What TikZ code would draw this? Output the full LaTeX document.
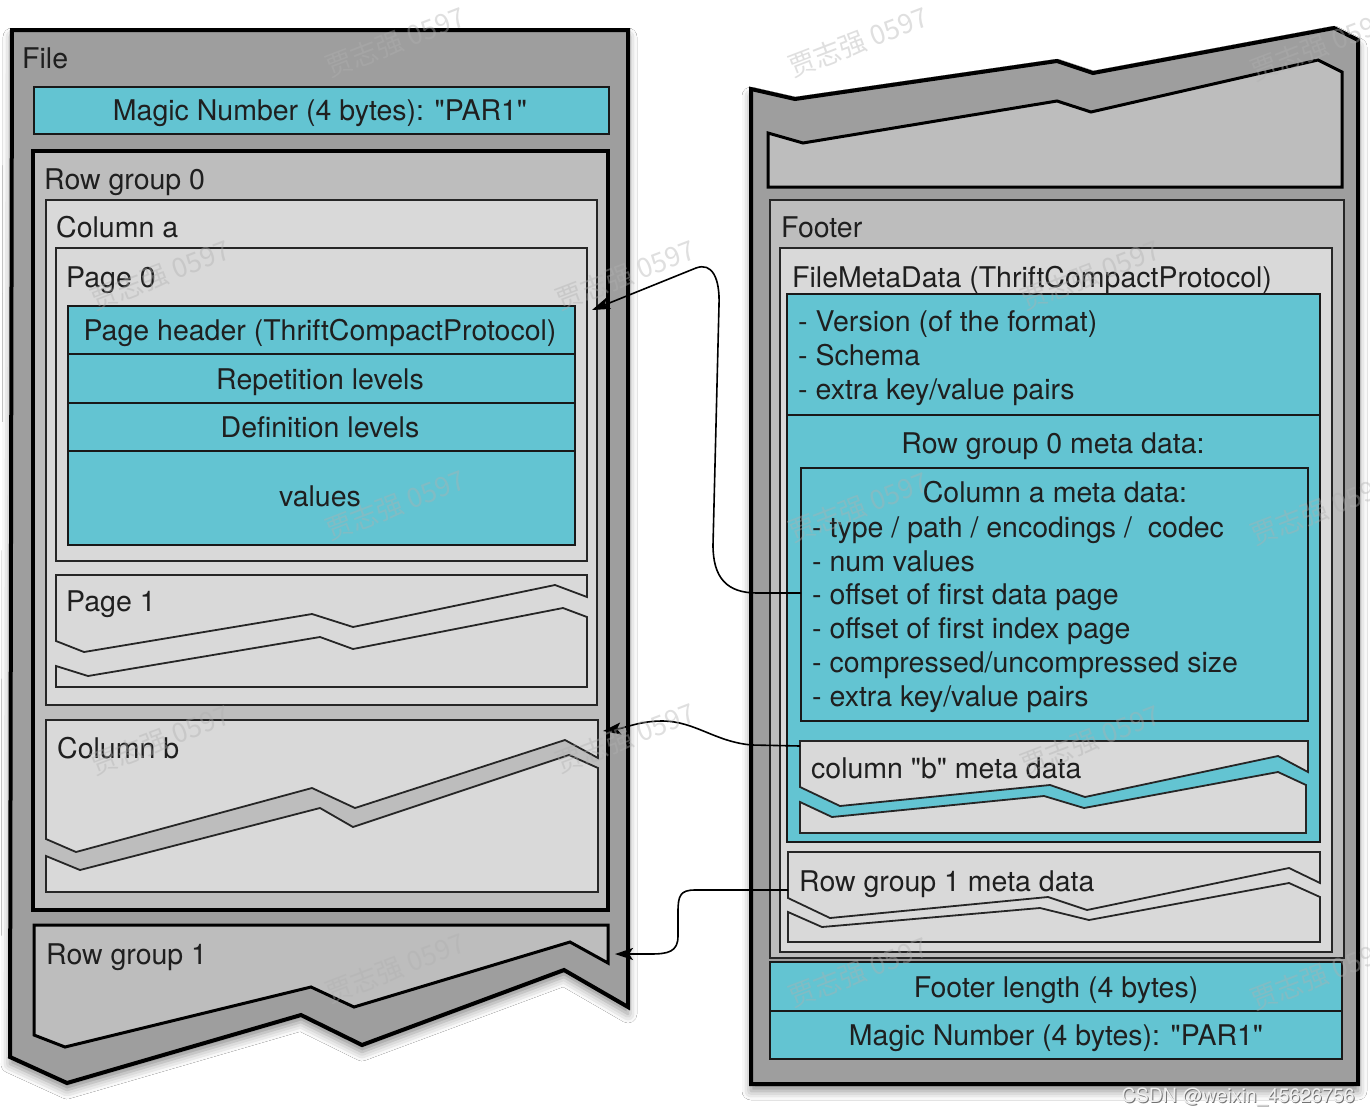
\documentclass[tikz,border=0pt]{standalone}
\usepackage{fontspec}
\setmainfont{TeX Gyre Heros}
\newfontfamily\cjk{Noto Sans CJK SC}
\usetikzlibrary{arrows.meta,shadows.blur}
\definecolor{outergray}{HTML}{9E9E9E}
\definecolor{midgray}{HTML}{BDBDBD}
\definecolor{lightgray2}{HTML}{D9D9D9}
\definecolor{cyanfill}{HTML}{63C4D2}
\definecolor{wm}{HTML}{B0B0B0}
\newcommand\sq{\XeTeXglyph\XeTeXcharglyph"22\relax}
\begin{document}
\begin{tikzpicture}[x=1pt,y=-1pt,
  every node/.style={font=\fontsize{28.5}{34}\selectfont, inner sep=0pt, text=black!88},
  outershape/.style={fill=outergray, draw=black, line width=4pt, line join=miter,
     blur shadow={shadow xshift=0pt, shadow yshift=-7pt, shadow blur radius=9pt, shadow opacity=45}},
  groupbox/.style={fill=midgray, draw=black, line width=4pt},
  groupbox3/.style={fill=midgray, draw=black, line width=3pt},
  lightbox/.style={fill=lightgray2, draw=black!85, line width=1.8pt},
  cyanbox/.style={fill=cyanfill, draw=black!90, line width=1.8pt},
  conn/.style={draw=black, line width=1.6pt, -{Stealth[length=18pt,width=12pt,inset=4pt]}},
  lbl/.style={anchor=base west},
  ctr/.style={anchor=base},
  wmark/.style={font=\cjk\fontsize{27}{30}\selectfont, text=wm, text opacity=0.4, rotate=21},
  csdn/.style={font=\fontsize{19.6}{22}\selectfont, anchor=base east}
]
\useasboundingbox (0,0) rectangle (1370,1114);
\fill[white] (0,0) rectangle (1370,1114);

% ---------------- left: File ----------------
\path[outershape] (12,30) -- (628,30) -- (628,1007) -- (564,970) -- (362,1045) -- (301,1015) -- (67,1083) -- (10,1057) -- cycle;
\draw[cyanbox] (34,87) rectangle (609,134);
\draw[groupbox] (33,151) rectangle (608,910);
\draw[lightbox] (46,200) rectangle (597,705);
\draw[lightbox] (56,248) rectangle (587,561);
\draw[cyanbox] (68,306) rectangle (575,354);
\draw[cyanbox] (68,354) rectangle (575,403);
\draw[cyanbox] (68,403) rectangle (575,451);
\draw[cyanbox] (68,451) rectangle (575,545);
% Page 1 (broken)
\draw[lightbox] (56,575) -- (587,575) -- (587,597) -- (555,585) -- (353,627) -- (312,614) -- (84,652) -- (56,641) -- cycle;
\draw[lightbox] (56,666) -- (88,676) -- (320,637) -- (353,649) -- (563,608) -- (587,617) -- (587,687) -- (56,687) -- cycle;
% Column b (broken)
\draw[lightbox] (46,720) -- (598,720) -- (598,758) -- (565,740) -- (355,808) -- (312,788) -- (76,852) -- (46,839) -- cycle;
\draw[lightbox] (46,856) -- (80,870) -- (320,808) -- (353,827) -- (569,755) -- (598,768) -- (598,892) -- (46,892) -- cycle;
% Row group 1 (broken)
\draw[groupbox3] (34,925) -- (608,925) -- (608,963) -- (570,942) -- (354,1007) -- (311,987) -- (65,1047) -- (34,1035) -- cycle;

% ---------------- right: tail of file ----------------
\path[outershape] (751,89) -- (795,99) -- (1057,61) -- (1093,73) -- (1334,28) -- (1358,40) -- (1358,1084) -- (751,1084) -- cycle;
\draw[groupbox3] (768,133) -- (803,143) -- (1057,101) -- (1091,112) -- (1318,60) -- (1342,72) -- (1342,187) -- (768,187) -- cycle;
\draw[fill=midgray, draw=black!85, line width=1.8pt] (770,200) rectangle (1344,958);
\draw[lightbox] (780,248) rectangle (1332,952);
\draw[cyanbox] (787,294) rectangle (1320,415);
\draw[cyanbox] (787,415) rectangle (1320,842);
\draw[cyanbox] (801,468) rectangle (1308,721);
% column b meta data (broken)
\draw[lightbox] (800,741) -- (1308,741) -- (1308,772) -- (1278,756) -- (1085,797) -- (1050,785) -- (840,806) -- (800,787) -- cycle;
\draw[lightbox] (800,802) -- (832,817) -- (1044,796) -- (1084,808) -- (1278,772) -- (1306,785) -- (1306,833) -- (800,833) -- cycle;
% Row group 1 meta data (broken)
\draw[lightbox] (788,852) -- (1320,852) -- (1320,883) -- (1289,868) -- (1087,910) -- (1048,897) -- (830,918) -- (788,898) -- cycle;
\draw[lightbox] (788,912) -- (822,927) -- (1040,908) -- (1089,920) -- (1289,883) -- (1320,897) -- (1320,942) -- (788,942) -- cycle;
\draw[cyanbox] (770,962) rectangle (1342,1011);
\draw[cyanbox] (770,1011) rectangle (1342,1059);

% ---------------- connectors ----------------
\coordinate (a1s) at (801,593); \coordinate (a1e) at (592,310);
\coordinate (a2s) at (800,746); \coordinate (a2e) at (603,731);
\coordinate (a3s) at (788,890); \coordinate (a3e) at (615,954);
\draw[conn] (a1s) -- (757,593) .. controls (727,593) and (713,578) .. (713,545) -- (719,305) .. controls (720,278) and (712,262) .. (696,268) -- (a1e);
\draw[conn] (a2s) -- (752,745) .. controls (715,742) and (695,721) .. (662,721) .. controls (640,721) and (625,728) .. (a2e);
\draw[conn] (a3s) -- (695,890) .. controls (680,890) and (678,896) .. (678,912) -- (678,936) .. controls (678,952) and (668,954) .. (650,954) -- (a3e);

% ---------------- texts: left ----------------
\node[lbl] (tFile) at (22,68) {File};
\node[ctr] (tMagicL) at (320,120) {Magic Number (4 bytes): \sq PAR1\sq};
\node[lbl] (tRG0) at (44,189) {Row group 0};
\node[lbl] (tColA) at (56,237) {Column a};
\node[lbl] (tP0) at (66,287) {Page 0};
\node[ctr] (tPH) at (320,340) {Page header (ThriftCompactProtocol)};
\node[ctr] (tRep) at (320,389) {Repetition levels};
\node[ctr] (tDef) at (320,437) {Definition levels};
\node[ctr] (tVal) at (320,506) {values};
\node[lbl] (tP1) at (66,611) {Page 1};
\node[lbl] (tColB) at (57,758) {Column b};
\node[lbl] (tRG1) at (46,964) {Row group 1};

% ---------------- texts: right ----------------
\node[lbl] (tFooter) at (781,237) {Footer};
\node[lbl] (tFMD) at (792,287) {FileMetaData (ThriftCompactProtocol)};
\node[lbl] (tV1) at (798,331) {- Version (of the format)};
\node[lbl] (tV2) at (798,365) {- Schema};
\node[lbl] (tV3) at (798,399) {- extra key/value pairs};
\node[ctr] (tRG0m) at (1053,453) {Row group 0 meta data:};
\node[ctr] (tCAm) at (1055,502) {Column a meta data:};
\node[lbl] (tC1) at (812,537) {- type / path / encodings /\ \ codec};
\node[lbl] (tC2) at (812,571) {- num values};
\node[lbl] (tC3) at (812,604) {- offset of first data page};
\node[lbl] (tC4) at (812,638) {- offset of first index page};
\node[lbl] (tC5) at (812,672) {- compressed/uncompressed size};
\node[lbl] (tC6) at (812,706) {- extra key/value pairs};
\node[lbl] (tCBm) at (811,778) {column \sq b\sq\ meta data};
\node[lbl] (tRG1m) at (799,891) {Row group 1 meta data};
\node[ctr] (tFL) at (1056,997) {Footer length (4 bytes)};
\node[ctr] (tMagicR) at (1056,1045) {Magic Number (4 bytes): \sq PAR1\sq};

% ---------------- watermark ----------------
\foreach \wx/\wy [count=\i] in {395/42,858/42,1320/46,160/275,625/275,1090/275,395/505,858/507,1320/510,160/740,625/738,1090/740,395/968,858/972,1320/975}{
  \node[wmark] (wm\i) at (\wx,\wy) {贾志强 0597};
}
\node[csdn, text=black!55] (csdnS) at (1356,1103.5) {CSDN @weixin\_45626756};
\node[csdn, text=white!94!black] (csdn) at (1355,1102.5) {CSDN @weixin\_45626756};
\end{tikzpicture}
\end{document}
